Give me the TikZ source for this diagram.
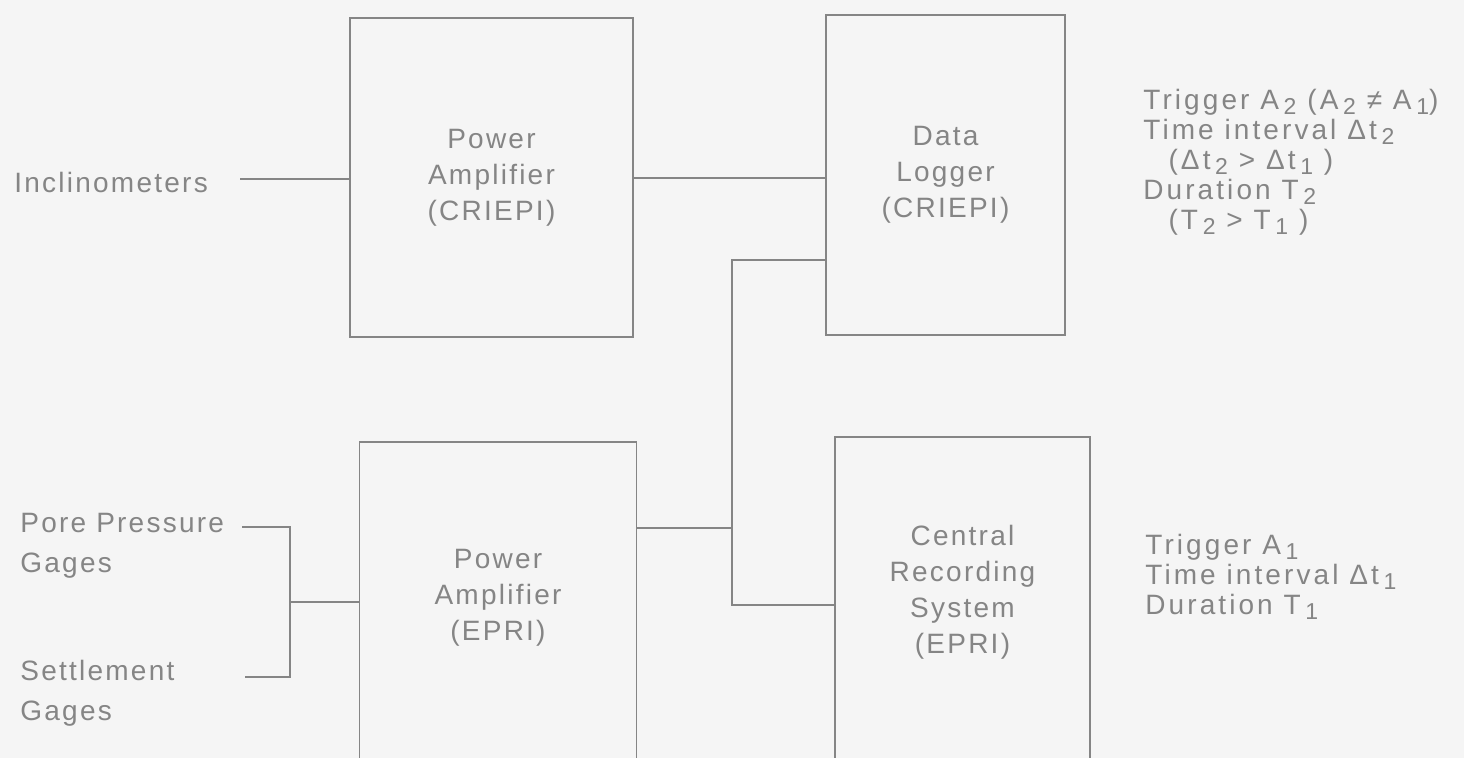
\documentclass[tikz,border=0pt]{standalone}
\usepackage{fontspec}
\setmainfont{Liberation Sans}[LetterSpace=8]
\usetikzlibrary{positioning}
\definecolor{ink}{HTML}{858585}
\definecolor{paper}{HTML}{F5F5F5}
\newcommand\lowsub[1]{\,\smash{\raisebox{-0.35ex}{\fontsize{11.5}{11.5}\selectfont #1}}}
\tikzset{
  blk/.style={draw=ink, line width=0.8pt, inner sep=0pt},
  lbl/.style={text=ink, font=\fontsize{14}{18}\selectfont, align=center, inner sep=0pt},
  side/.style={text=ink, font=\fontsize{14}{20}\selectfont, align=left, inner sep=0pt},
  note/.style={text=ink, font=\fontsize{14}{15}\selectfont\addfontfeatures{LetterSpace=11}, align=left, inner sep=0pt},
  wire/.style={draw=ink, line width=0.8pt},
}
\begin{document}
\begin{tikzpicture}[x=0.5pt, y=-0.5pt]
\fill[paper] (0,0) rectangle (1464,758);
\useasboundingbox (0,0) rectangle (1464,758);

% blocks
\node[blk, lbl, minimum width=141.5pt, minimum height=159.5pt] (pc) at (491.5,177.5) {Power\\Amplifier\\(CRIEPI)};
\node[blk, lbl, minimum width=119.5pt, minimum height=160pt] (dl) at (945.5,175) {Data\\Logger\\(CRIEPI)};
\node[blk, minimum width=138.5pt, minimum height=170pt] (pe) at (498,612) {};
\node[lbl] (petxt) at (498,598) {Power\\Amplifier\\(EPRI)};
\node[blk, minimum width=127.5pt, minimum height=172pt] (crs) at (962.5,609) {};
\node[lbl] (crstxt) at (962.5,592) {Central\\Recording\\System\\(EPRI)};

% inputs
\node[side, anchor=west] (incl) at (14,182) {Inclinometers};
\node[side, anchor=west] (pore) at (20,546) {Pore Pressure\\Gages};
\node[side, anchor=west] (settle) at (20,693) {Settlement\\Gages};
\coordinate (inclend) at (240,179);
\coordinate (poreend) at (242,527);
\coordinate (settleend) at (245,677);
\coordinate (brk) at (290,602);
\coordinate (bus) at (732,260);

% notes
\node[note, anchor=north west] (dlnote) at (1143,89) {Trigger A\lowsub{2} (A\lowsub{2} ≠ A\lowsub{1})\\Time interval Δt\lowsub{2}\\\hspace*{0.9em}(Δt\lowsub{2} > Δt\lowsub{1} )\\Duration T\lowsub{2}\\\hspace*{0.9em}(T\lowsub{2} > T\lowsub{1} )};
\node[note, anchor=north west] (crsnote) at (1145,534) {Trigger A\lowsub{1}\\Time interval Δt\lowsub{1}\\Duration T\lowsub{1}};

% wiring
\draw[wire] (inclend) -- (inclend -| pc.west);
\draw[wire] (pc.east |- 0,178) -- (dl.west |- 0,178);
\draw[wire] (bus -| dl.west) -- (bus) |- (crs.west |- 0,605);
\draw[wire] (pe.east |- 0,528) -- (bus |- 0,528);
\draw[wire] (poreend) -- (brk |- poreend) -- (brk |- settleend) -- (settleend);
\draw[wire] (brk) -- (brk -| pe.west);
\end{tikzpicture}
\end{document}
